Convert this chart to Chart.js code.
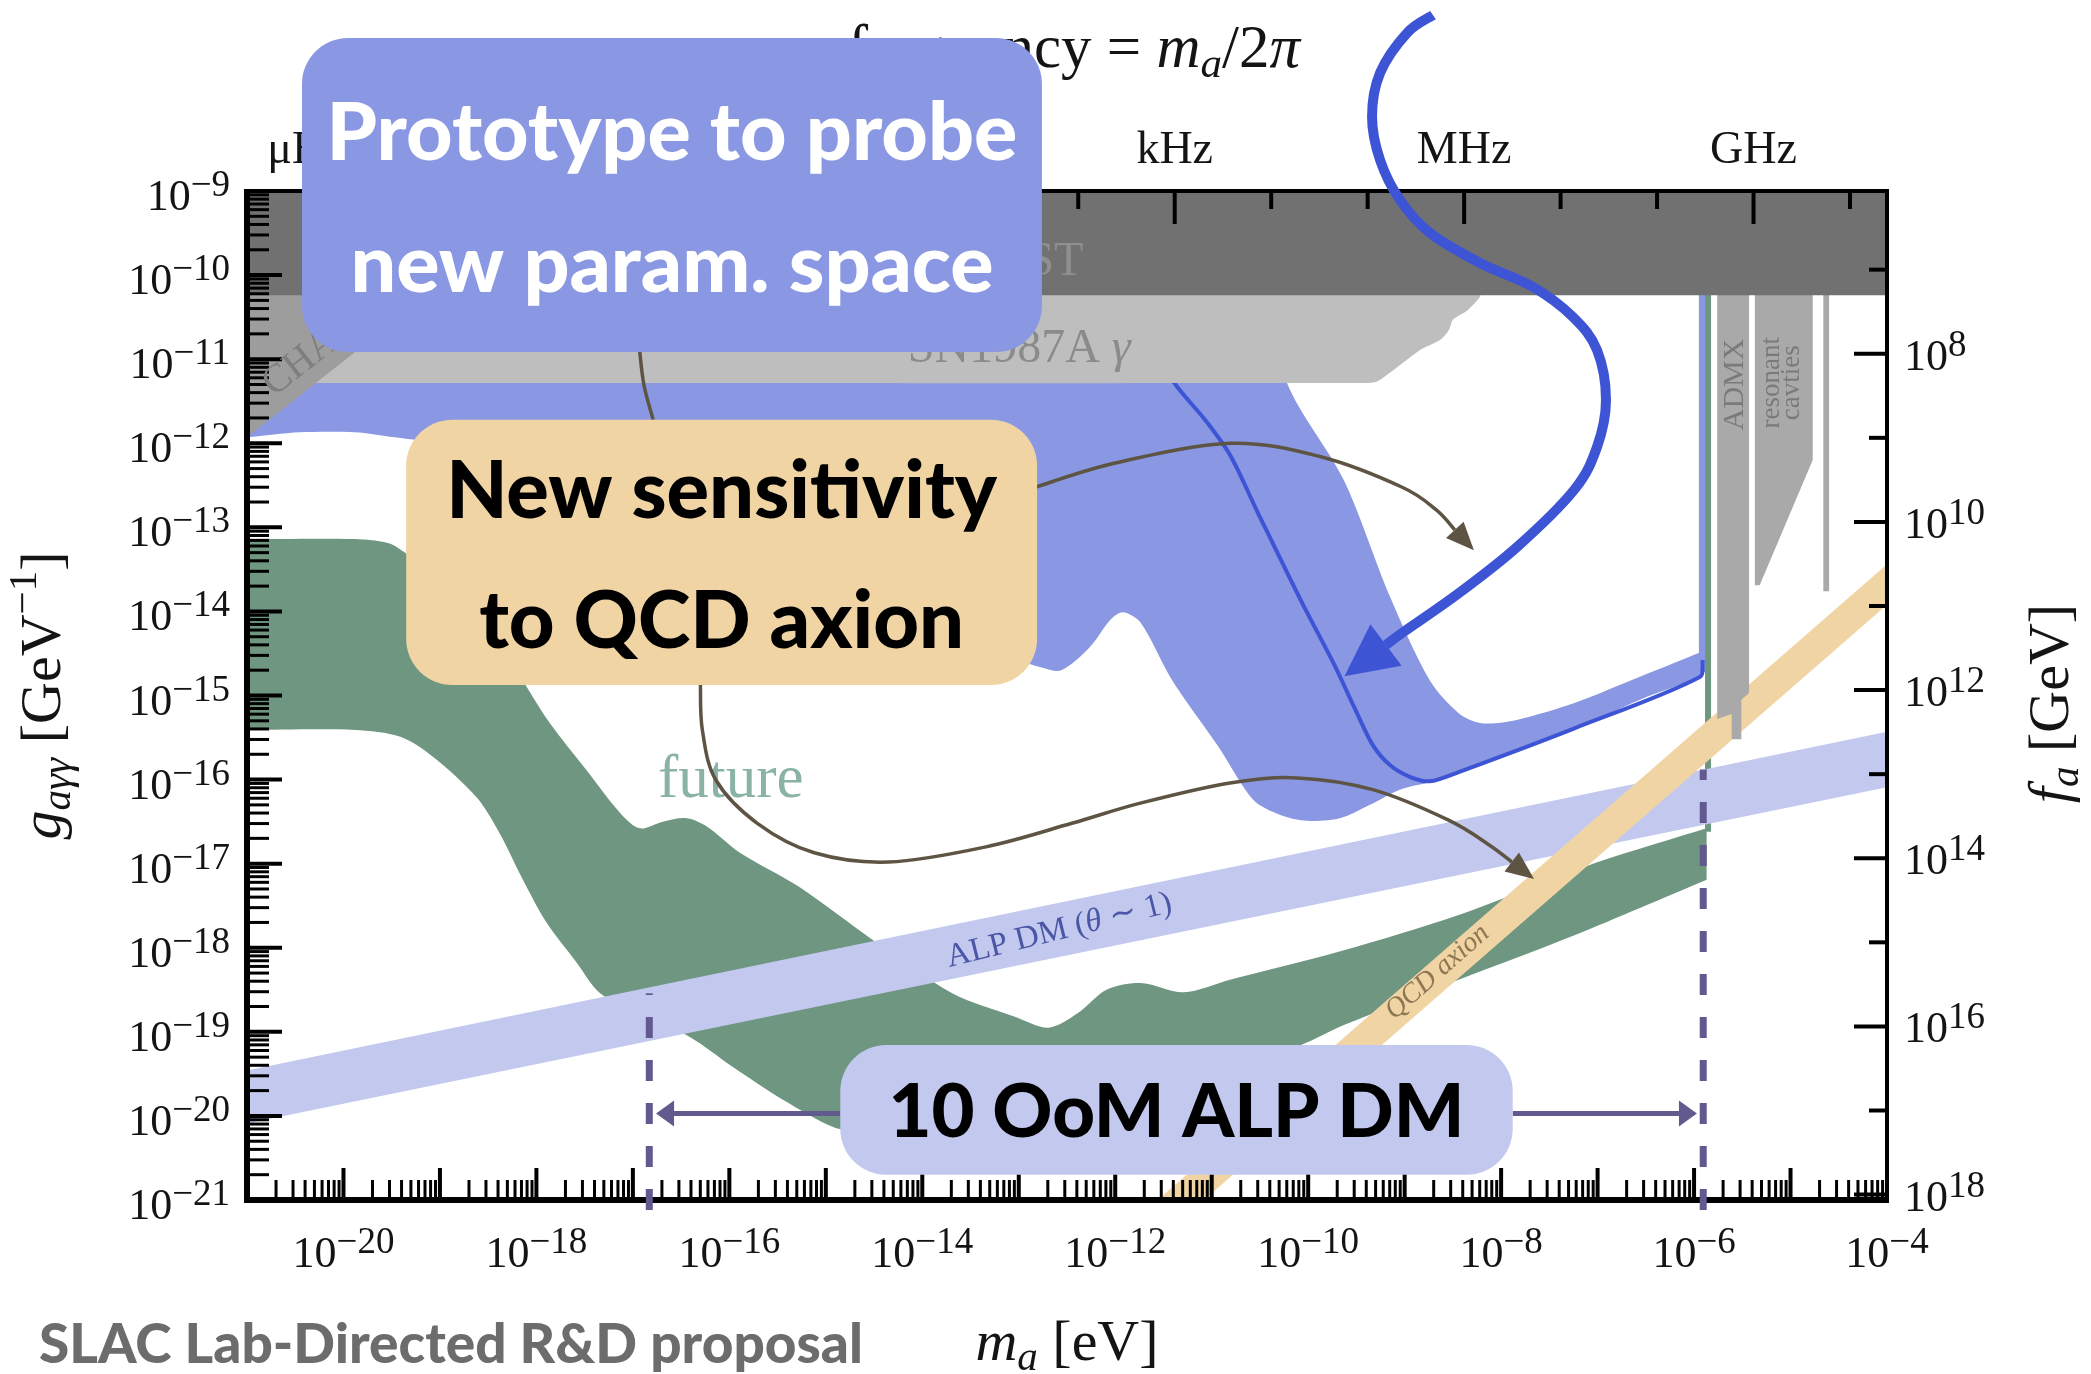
<!DOCTYPE html>
<html>
<head>
<meta charset="utf-8">
<title>Axion–photon coupling reach</title>
<script src="https://cdn.jsdelivr.net/npm/chart.js@4.4.1/dist/chart.umd.min.js"></script>
<style>
  html, body { margin: 0; padding: 0; background: #ffffff; }
  #wrap { width: 2091px; height: 1374px; position: relative; }
  #chart { display: block; }
</style>
</head>
<body>
<div id="wrap"><canvas id="chart" width="2091" height="1374"></canvas></div>
<script>
// Conversions used by the secondary axes
const EV_TO_HZ = 2.418e14;       // frequency = m_a / 2π  (Hz per eV)
const ALPHA_OVER_2PI = 1.16e-3;  // g_aγγ ≈ α / (2π f_a)

// Axis ranges, log10
const massRange = [-21, -4];
const couplingRange = [-21, -9];

// Tick labels
const couplingTickExps = [-21, -20, -19, -18, -17, -16, -15, -14, -13, -12, -11, -10, -9];
const massTickExps = [-20, -18, -16, -14, -12, -10, -8, -6, -4];
const faTickExps = [8, 10, 12, 14, 16, 18];
const freqTickExps = [-6, -3, 0, 3, 6, 9];
const freqTickUnits = ['μHz', 'mHz', 'Hz', 'kHz', 'MHz', 'GHz'];

// Regions and curves as [log10(m_a / eV), log10(g_aγγ / GeV^-1)]
const castRegion = [[-21, -8.9], [-4, -8.9], [-4, -10.24], [-21, -10.24]];
const chandraRegion = [[-21, -10.2], [-19.09, -10.2], [-21, -11.93]];
const snRegion = [[-21, -10.2], [-8.22, -10.2], [-8.22, -10.26], [-8.35, -10.42], [-8.50, -10.53],
  [-8.54, -10.65], [-8.63, -10.77], [-8.84, -10.89], [-8.98, -11.01], [-9.15, -11.16],
  [-9.29, -11.27], [-9.40, -11.284], [-21, -11.284]];
const blueRegion = [[-21.00, -11.93], [-20.45, -11.87], [-19.88, -11.87], [-19.47, -11.93],
  [-18.90, -12.02], [-17.86, -12.26], [-16.82, -12.68], [-15.79, -13.15], [-14.75, -13.63],
  [-13.71, -14.16], [-12.99, -14.58], [-12.78, -14.66], [-12.56, -14.70], [-12.26, -14.42],
  [-12.05, -14.10], [-11.92, -14.01], [-11.74, -14.13], [-11.41, -14.82], [-10.93, -15.61],
  [-10.57, -16.24], [-10.29, -16.42], [-10.01, -16.49], [-9.67, -16.46], [-9.36, -16.30],
  [-9.05, -16.12], [-8.74, -16.03], [-8.01, -15.74], [-7.24, -15.41], [-6.56, -15.05],
  [-5.94, -14.79], [-5.94, -14.79], [-5.94, -14.49], [-5.94, -14.49], [-6.65, -14.82],
  [-7.24, -15.09], [-7.84, -15.29], [-8.20, -15.33], [-8.44, -15.21], [-8.74, -14.82],
  [-9.15, -13.83], [-9.63, -12.44], [-10.22, -11.28], [-10.40, -10.20], [-21.00, -10.20]];
const blueSliver = [[-5.95, -14.72], [-5.88, -14.72], [-5.88, -10.2], [-5.95, -10.2]];
const blueCurve = [[-11.64, -10.77], [-11.39, -11.28], [-11.07, -11.72], [-10.81, -12.14],
  [-10.52, -12.83], [-10.08, -13.86], [-9.74, -14.61], [-9.51, -15.17], [-9.33, -15.59],
  [-9.15, -15.83], [-8.94, -15.97], [-8.74, -16.02], [-8.44, -15.91], [-7.24, -15.39],
  [-5.94, -14.78], [-5.91, -14.58]];
const futureRegion = [[-21, -13.14], [-19.88, -13.14], [-19.53, -13.19], [-19.35, -13.31],
  [-18.90, -13.63], [-18.48, -14.16], [-18.22, -14.64], [-18.10, -14.90], [-17.86, -15.33],
  [-17.48, -15.89], [-17.13, -16.40], [-16.93, -16.58], [-16.69, -16.50], [-16.44, -16.46],
  [-16.23, -16.56], [-15.89, -16.87], [-15.27, -17.28], [-14.51, -17.91], [-13.69, -18.54],
  [-13.04, -18.82], [-12.69, -18.95], [-12.39, -18.78], [-12.09, -18.50], [-11.74, -18.42],
  [-11.29, -18.53], [-10.81, -18.38], [-9.63, -18.03], [-8.44, -17.61], [-7.55, -17.22],
  [-6.94, -16.96], [-5.87, -16.58], [-5.87, -16.58], [-5.87, -17.19], [-5.87, -17.19],
  [-7.24, -17.85], [-8.44, -18.38], [-9.63, -18.92], [-10.08, -19.16], [-11.12, -19.57],
  [-12.16, -19.93], [-13.19, -20.17], [-14.23, -20.25], [-14.65, -20.20], [-14.93, -20.13],
  [-15.44, -19.81], [-15.96, -19.42], [-16.41, -19.06], [-16.93, -18.78], [-17.34, -18.54],
  [-17.58, -18.18], [-17.89, -17.71], [-18.14, -17.19], [-18.38, -16.64], [-18.62, -16.21],
  [-19.07, -15.73], [-19.41, -15.49], [-19.88, -15.41], [-21, -15.41]];
const futureEdge = [[-5.855, -10.2], [-5.855, -16.62]];
const alpBand = [[-21, -19.46], [-4, -15.43], [-4, -16.09], [-21, -20.09]];
const qcdBand = [[-12.5, -21.94], [-3.9, -13.34], [-3.9, -13.82], [-12.5, -22.42]];
const admxRegion = [[-5.76, -10.2], [-5.43, -10.2], [-5.43, -14.97], [-5.51, -15.05],
  [-5.51, -15.52], [-5.61, -15.52], [-5.61, -15.22], [-5.76, -15.28]];
const cavityRegion = [[-5.37, -10.2], [-4.77, -10.2], [-4.77, -12.20], [-5.32, -13.69], [-5.37, -13.69]];
const cavityStrip = [[-4.66, -10.2], [-4.60, -10.2], [-4.60, -13.76], [-4.66, -13.76]];
const reachLow = [[-16.83, -21.12], [-16.83, -18.54]];
const reachHigh = [[-5.905, -21.12], [-5.905, -15.88]];

// Annotation paths (same log10 coordinates)
const linkPath = [[-16.93, -10.90], [-16.885, -11.31], [-16.79, -11.72]];
const qcdArrowPath = [[-12.82, -12.52], [-12.00, -12.235], [-10.81, -12.00], [-9.87, -12.16],
  [-9.03, -12.52], [-8.675, -12.79], [-8.48, -13.03]];
const alpArrowPath = [[-16.30, -14.875], [-16.28, -15.41], [-16.14, -16.005], [-15.71, -16.52],
  [-15.12, -16.87], [-14.35, -16.98], [-13.34, -16.80], [-12.45, -16.52], [-11.74, -16.28],
  [-10.81, -16.04], [-10.11, -15.98], [-9.33, -16.12], [-8.55, -16.48], [-8.12, -16.78], [-7.89, -16.98]];
const probeArrowPath = [[-8.706, -6.907], [-8.976, -7.121], [-9.255, -7.597], [-9.338, -8.12],
  [-9.255, -8.631], [-9.048, -9.107], [-8.737, -9.50], [-8.219, -9.856], [-7.669, -10.142],
  [-7.255, -10.499], [-7.006, -10.891], [-6.913, -11.486], [-7.006, -12.045], [-7.244, -12.556],
  [-7.835, -13.234], [-8.436, -13.781], [-9.027, -14.257], [-9.193, -14.40]];

const SERIF = '"Liberation Serif", "DejaVu Serif", serif';
const SANS = 'Lato, "Open Sans", "Noto Sans", sans-serif';

const toXY = pts => pts.map(([m, g]) => ({ x: Math.pow(10, m), y: Math.pow(10, g) }));

const layers = [
  { label: 'projected reach', pts: blueRegion, fill: '#8a97e2', tension: 0.3 },
  { label: 'projected reach edge', pts: blueSliver, fill: '#8a97e2' },
  { label: 'sensitivity curve', pts: blueCurve, stroke: '#3d55d5', width: 4, tension: 0.3 },
  { label: 'future', pts: futureRegion, fill: '#6e9680', tension: 0.3 },
  { label: 'future edge', pts: futureEdge, stroke: '#6e9680', width: 6 },
  { label: 'ALP DM', pts: alpBand, fill: '#c3c9ee' },
  { label: 'QCD axion', pts: qcdBand, fill: '#f0d4a4' },
  { label: 'ADMX', pts: admxRegion, fill: '#a9a9a9' },
  { label: 'resonant cavities', pts: cavityRegion, fill: '#a9a9a9' },
  { label: 'cavity strip', pts: cavityStrip, fill: '#a9a9a9' },
  { label: 'SN1987A', pts: snRegion, fill: '#bebebe', tension: 0.25 },
  { label: 'Chandra', pts: chandraRegion, fill: '#9d9d9d' },
  { label: 'CAST', pts: castRegion, fill: '#717171' },
  { label: 'ALP DM reach low', pts: reachLow, stroke: '#625a8e', width: 7, dash: [21, 22], noClip: true },
  { label: 'ALP DM reach high', pts: reachHigh, stroke: '#625a8e', width: 7, dash: [21, 22], noClip: true }
];

const datasets = layers.map((l, i) => {
  const ds = {
    label: l.label,
    data: toXY(l.pts),
    order: layers.length - i,
    pointRadius: 0,
    pointHoverRadius: 0,
    tension: l.tension || 0,
    fill: l.fill ? 'shape' : false,
    backgroundColor: l.fill || 'rgba(0,0,0,0)',
    borderColor: l.stroke || 'rgba(0,0,0,0)',
    borderWidth: l.stroke ? l.width : 0,
    borderDash: l.dash || []
  };
  if (l.noClip) ds.clip = false;
  return ds;
});

// In-plot labels
const plotTexts = [
  { parts: [['CAST', '']], at: [-12.33, -10.0], size: 48, color: '#8f8f8f', align: 'right' },
  { parts: [['SN1987A ', ''], ['γ', 'italic']], at: [-14.15, -11.03], size: 48, color: '#8b8b8b', align: 'left' },
  { parts: [['CHANDRA', '']], at: [-20.72, -11.45], size: 40, color: '#7e7e7e', align: 'left', rot: -38 },
  { parts: [['future', '']], at: [-16.74, -16.21], size: 61, color: '#8ab2a6', align: 'left' },
  { parts: [['ALP DM (', ''], ['θ', 'italic'], [' ∼ 1)', '']], at: [-13.72, -18.23], size: 33, color: '#4b57a6', align: 'left', rot: -14 },
  { parts: [['QCD axion', 'italic']], at: [-8.66, -18.29], size: 28, color: '#8c7752', align: 'center', rot: -41.5, baseline: 'middle' },
  { parts: [['ADMX', '']], at: [-5.576, -11.30], size: 30, color: '#7a7a7a', align: 'center', rot: -90, baseline: 'middle' },
  { parts: [['resonant', '']], at: [-5.192, -11.28], size: 27, color: '#7a7a7a', align: 'center', rot: -90, baseline: 'middle' },
  { parts: [['cavties', '']], at: [-4.985, -11.28], size: 27, color: '#7a7a7a', align: 'center', rot: -90, baseline: 'middle' }
];

// Call-outs
const callouts = {
  curves: [
    { path: linkPath, color: '#5e5444', width: 3.5 },
    { path: qcdArrowPath, color: '#5e5444', width: 3.5, head: { len: 28, half: 12 } },
    { path: alpArrowPath, color: '#5e5444', width: 3.5, head: { len: 28, half: 12 } },
    { path: probeArrowPath, color: '#3d55d5', width: 10, head: { len: 52, half: 26 } }
  ],
  spans: [
    { from: [-14.85, -19.97], to: [-16.76, -19.97] },
    { from: [-7.88, -19.97], to: [-5.97, -19.97] }
  ],
  boxes: [
    { lines: ['Prototype to probe', 'new param. space'], m: [-20.43, -12.76], g: [-7.18, -10.915], fill: '#8a98e3', color: '#ffffff', fitWidth: 691 },
    { lines: ['New sensitivity', 'to QCD axion'], m: [-19.35, -12.81], g: [-11.72, -14.875], fill: '#f0d4a4', color: '#000000', fitWidth: 551 },
    { lines: ['10 OoM ALP DM'], m: [-14.85, -7.88], g: [-19.157, -20.70], fill: '#c3c9ee', color: '#000000', fitWidth: 576 }
  ],
  footer: { text: 'SLAC Lab-Directed R&D proposal', left: 39, baseline: 1363, fitWidth: 824, color: '#6c6c6c' }
};

function P(chart, lm, lg) {
  return [chart.scales.x.getPixelForValue(Math.pow(10, lm)), chart.scales.y.getPixelForValue(Math.pow(10, lg))];
}

function richText(ctx, parts, x, y, align, baseline) {
  let w = 0;
  for (const p of parts) { ctx.font = p.font; p.w = ctx.measureText(p.text).width; w += p.w; }
  let cx = align === 'right' ? x - w : align === 'center' ? x - w / 2 : x;
  ctx.textAlign = 'left';
  ctx.textBaseline = baseline || 'alphabetic';
  for (const p of parts) { ctx.font = p.font; ctx.fillText(p.text, cx, y + (p.dy || 0)); cx += p.w; }
  return w;
}

function powLabel(ctx, exp, x, y, align) {
  const e = (exp < 0 ? '−' : '') + Math.abs(exp);
  richText(ctx, [
    { text: '10', font: `44px ${SERIF}` },
    { text: e, font: `37px ${SERIF}`, dy: -14 }
  ], x, y, align);
}

function drawFrame(chart) {
  const { ctx, chartArea: a } = chart;
  const { x, y, xf, yf } = chart.scales;
  ctx.save();
  ctx.strokeStyle = '#000000';
  ctx.lineCap = 'butt';
  const seg = (x1, y1, x2, y2, w) => {
    ctx.lineWidth = w; ctx.beginPath(); ctx.moveTo(x1, y1); ctx.lineTo(x2, y2); ctx.stroke();
  };
  // coupling axis ticks (left), pointing inwards
  for (let e = couplingRange[0]; e <= couplingRange[1]; e++) {
    for (let s = 1; s <= 9; s++) {
      const v = s * Math.pow(10, e);
      if (v > Math.pow(10, couplingRange[1]) * 1.001) break;
      const py = y.getPixelForValue(v);
      seg(a.left, py, a.left + (s === 1 ? 35 : 22), py, s === 1 ? 4 : 3);
    }
  }
  // mass axis ticks (bottom)
  for (let e = massRange[0]; e <= massRange[1]; e++) {
    for (let s = 1; s <= 9; s++) {
      const v = s * Math.pow(10, e);
      if (v > Math.pow(10, massRange[1]) * 1.001) break;
      const px = x.getPixelForValue(v);
      seg(px, a.bottom, px, a.bottom - (s === 1 ? 32 : 20), s === 1 ? 4 : 3);
    }
  }
  // f_a ticks (right), one per decade
  for (let k = 5; k <= 20; k++) {
    const py = yf.getPixelForValue(Math.pow(10, k));
    if (py < a.top + 2 || py > a.bottom - 2) continue;
    const len = k % 2 === 0 ? 33 : 18;
    seg(a.right - len, py, a.right, py, 4);
  }
  // frequency ticks (top), one per decade
  for (let k = -9; k <= 12; k++) {
    const px = xf.getPixelForValue(Math.pow(10, k));
    if (px < a.left + 2 || px > a.right - 2) continue;
    const len = ((k % 3) + 3) % 3 === 0 ? 33 : 18;
    seg(px, a.top, px, a.top + len, 4);
  }
  // spines
  ctx.lineWidth = 4;
  ctx.strokeRect(a.left, a.top, a.right - a.left, a.bottom - a.top);
  seg(a.left, a.top - 2, a.left, a.bottom + 3, 6);
  seg(a.left - 3, a.bottom, a.right + 2, a.bottom, 6);
  ctx.restore();
}

function drawLabels(chart) {
  const { ctx, chartArea: a } = chart;
  const { x, y, xf, yf } = chart.scales;
  ctx.save();
  // in-plot labels
  for (const t of plotTexts) {
    const [x0, y0] = P(chart, t.at[0], t.at[1]);
    ctx.save();
    ctx.translate(x0, y0);
    if (t.rot) ctx.rotate(t.rot * Math.PI / 180);
    ctx.fillStyle = t.color;
    richText(ctx, t.parts.map(([text, style]) => ({ text, font: `${style} ${t.size}px ${SERIF}` })), 0, 0, t.align, t.baseline);
    ctx.restore();
  }
  ctx.fillStyle = '#141414';
  // tick labels
  for (const e of couplingTickExps) powLabel(ctx, e, a.left - 17, y.getPixelForValue(Math.pow(10, e)) + 19, 'right');
  for (const e of massTickExps) powLabel(ctx, e, x.getPixelForValue(Math.pow(10, e)), a.bottom + 67, 'center');
  for (const k of faTickExps) powLabel(ctx, k, a.right + 17, yf.getPixelForValue(Math.pow(10, k)) + 16, 'left');
  freqTickExps.forEach((k, i) => {
    richText(ctx, [{ text: freqTickUnits[i], font: `46px ${SERIF}` }], xf.getPixelForValue(Math.pow(10, k)), a.top - 28, 'center');
  });
  const cx = (a.left + a.right) / 2, cy = (a.top + a.bottom) / 2;
  // axis titles
  richText(ctx, [
    { text: 'm', font: `italic 58px ${SERIF}` },
    { text: 'a', font: `italic 41px ${SERIF}`, dy: 10 },
    { text: ' [eV]', font: `58px ${SERIF}` }
  ], cx, a.bottom + 160, 'center');
  richText(ctx, [
    { text: 'frequency = ', font: `61px ${SERIF}` },
    { text: 'm', font: `italic 61px ${SERIF}` },
    { text: 'a', font: `italic 43px ${SERIF}`, dy: 10 },
    { text: '/2', font: `61px ${SERIF}` },
    { text: 'π', font: `italic 61px ${SERIF}` }
  ], cx + 233, a.top - 124, 'right');
  ctx.save();
  ctx.translate(a.left - 187, cy);
  ctx.rotate(-Math.PI / 2);
  richText(ctx, [
    { text: 'g', font: `italic 58px ${SERIF}` },
    { text: 'aγγ', font: `italic 41px ${SERIF}`, dy: 10 },
    { text: ' [GeV', font: `58px ${SERIF}` },
    { text: '−1', font: `41px ${SERIF}`, dy: -24 },
    { text: ']', font: `58px ${SERIF}` }
  ], 0, 0, 'center');
  ctx.restore();
  ctx.save();
  ctx.translate(a.right + 181, cy + 8);
  ctx.rotate(-Math.PI / 2);
  richText(ctx, [
    { text: 'f', font: `italic 58px ${SERIF}` },
    { text: 'a', font: `italic 41px ${SERIF}`, dy: 10 },
    { text: ' [GeV]', font: `58px ${SERIF}` }
  ], 0, 0, 'center');
  ctx.restore();
  ctx.restore();
}

function smoothPath(ctx, pts) {
  ctx.moveTo(pts[0][0], pts[0][1]);
  for (let i = 0; i < pts.length - 1; i++) {
    const p0 = pts[i - 1] || pts[i], p1 = pts[i], p2 = pts[i + 1], p3 = pts[i + 2] || pts[i + 1];
    ctx.bezierCurveTo(
      p1[0] + (p2[0] - p0[0]) / 6, p1[1] + (p2[1] - p0[1]) / 6,
      p2[0] - (p3[0] - p1[0]) / 6, p2[1] - (p3[1] - p1[1]) / 6,
      p2[0], p2[1]);
  }
}

function arrowHead(ctx, base, dir, len, half) {
  const [dx, dy] = dir;
  const tip = [base[0] + dx * len, base[1] + dy * len];
  ctx.beginPath();
  ctx.moveTo(tip[0], tip[1]);
  ctx.lineTo(base[0] - dy * half, base[1] + dx * half);
  ctx.lineTo(base[0] + dy * half, base[1] - dx * half);
  ctx.closePath();
  ctx.fill();
}

function roundRect(ctx, x, y, w, h, r) {
  ctx.beginPath();
  ctx.moveTo(x + r, y);
  ctx.arcTo(x + w, y, x + w, y + h, r);
  ctx.arcTo(x + w, y + h, x, y + h, r);
  ctx.arcTo(x, y + h, x, y, r);
  ctx.arcTo(x, y, x + w, y, r);
  ctx.closePath();
}

function drawCallouts(chart) {
  const { ctx } = chart;
  ctx.save();
  ctx.lineCap = 'butt';
  ctx.lineJoin = 'round';
  for (const c of callouts.curves) {
    const pts = c.path.map(([m, g]) => P(chart, m, g));
    ctx.strokeStyle = c.color;
    ctx.fillStyle = c.color;
    ctx.lineWidth = c.width;
    ctx.beginPath();
    smoothPath(ctx, pts);
    ctx.stroke();
    if (c.head) {
      const b = pts[pts.length - 1], p = pts[pts.length - 2];
      const d = Math.hypot(b[0] - p[0], b[1] - p[1]);
      arrowHead(ctx, b, [(b[0] - p[0]) / d, (b[1] - p[1]) / d], c.head.len, c.head.half);
    }
  }
  ctx.strokeStyle = '#625a8e';
  ctx.fillStyle = '#625a8e';
  for (const s of callouts.spans) {
    const f = P(chart, s.from[0], s.from[1]), t = P(chart, s.to[0], s.to[1]);
    const dir = Math.sign(t[0] - f[0]);
    const base = [t[0] - dir * 18, t[1]];
    ctx.lineWidth = 5;
    ctx.beginPath(); ctx.moveTo(f[0], f[1]); ctx.lineTo(base[0], base[1]); ctx.stroke();
    arrowHead(ctx, base, [dir, 0], 18, 13);
  }
  for (const b of callouts.boxes) {
    const [x1, y1] = P(chart, b.m[0], b.g[0]);
    const [x2, y2] = P(chart, b.m[1], b.g[1]);
    ctx.fillStyle = b.fill;
    roundRect(ctx, x1, y1, x2 - x1, y2 - y1, 46);
    ctx.fill();
    ctx.font = `900 100px ${SANS}`;
    const size = 100 * b.fitWidth / ctx.measureText(b.lines[0]).width;
    ctx.font = `900 ${size}px ${SANS}`;
    ctx.fillStyle = b.color;
    ctx.textAlign = 'center';
    ctx.textBaseline = 'alphabetic';
    const cx = (x1 + x2) / 2, cy = (y1 + y2) / 2;
    if (b.lines.length === 1) {
      ctx.fillText(b.lines[0], cx, cy + 0.36 * size);
    } else {
      const b1 = cy - 0.43 * size;
      ctx.fillText(b.lines[0], cx, b1);
      ctx.fillText(b.lines[1], cx, b1 + 1.63 * size);
    }
  }
  const f = callouts.footer;
  ctx.font = `900 100px ${SANS}`;
  const fs = 100 * f.fitWidth / ctx.measureText(f.text).width;
  ctx.font = `900 ${fs}px ${SANS}`;
  ctx.fillStyle = f.color;
  ctx.textAlign = 'left';
  ctx.fillText(f.text, f.left, f.baseline);
  ctx.restore();
}

const framePlugin = {
  id: 'frame',
  afterDatasetDraw(chart, args) {
    if (chart.data.datasets[args.index].label === 'CAST') drawFrame(chart);
  },
  afterDatasetsDraw(chart) { drawLabels(chart); }
};
const calloutPlugin = {
  id: 'callouts',
  afterDraw(chart) { drawCallouts(chart); }
};

new Chart(document.getElementById('chart'), {
  type: 'line',
  data: { datasets },
  options: {
    responsive: false,
    animation: false,
    events: [],
    devicePixelRatio: 1,
    layout: { padding: { left: 247, top: 191, right: 204, bottom: 174 } },
    plugins: { legend: { display: false }, tooltip: { enabled: false }, title: { display: false } },
    scales: {
      x: { type: 'logarithmic', position: 'bottom', display: false,
           min: Math.pow(10, massRange[0]), max: Math.pow(10, massRange[1]) },
      y: { type: 'logarithmic', position: 'left', display: false,
           min: Math.pow(10, couplingRange[0]), max: Math.pow(10, couplingRange[1]) },
      xf: { type: 'logarithmic', position: 'top', display: false,
            min: Math.pow(10, massRange[0]) * EV_TO_HZ, max: Math.pow(10, massRange[1]) * EV_TO_HZ },
      yf: { type: 'logarithmic', position: 'right', display: false, reverse: true,
            min: ALPHA_OVER_2PI / Math.pow(10, couplingRange[1]), max: ALPHA_OVER_2PI / Math.pow(10, couplingRange[0]) }
    }
  },
  plugins: [framePlugin, calloutPlugin]
});
</script>
</body>
</html>
